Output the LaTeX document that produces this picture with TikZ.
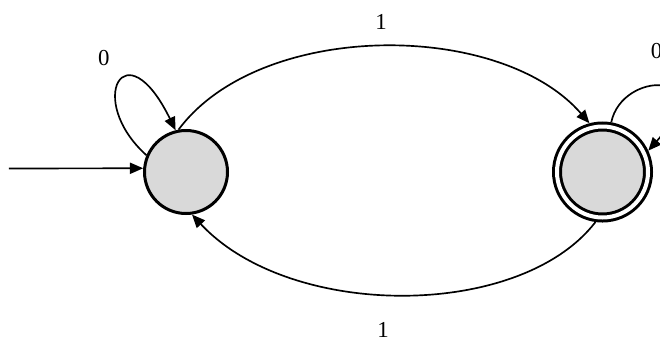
\documentclass[tikz,border=0pt]{standalone}
\usepackage{fontspec}
\setmainfont{Liberation Serif}
\usetikzlibrary{arrows.meta,positioning}
\definecolor{stategray}{RGB}{217,217,217}
\tikzset{
 statecirc/.style={circle,draw=black,line width=0.06cm,fill=stategray,minimum size=1.66cm,inner sep=0pt,outer sep=0.03cm},
 acceptcirc/.style={statecirc,double=white,double distance=0.08cm,minimum size=1.82cm,outer sep=0.1cm},
 arrow/.style={-{Triangle[length=7.5pt,width=6.3pt]},line width=0.95pt,draw=black},
 lbl/.style={font=\fontsize{13}{15}\selectfont,inner sep=2pt}}

\begin{document}
\begin{tikzpicture}
\useasboundingbox (-3.72,-3.42) rectangle (9.48,3.44);
\node[statecirc] (s0) {};
\node[acceptcirc,right=6.46cm of s0] (s1) {};
\coordinate (init) at (-3.54,0.07);
\draw[arrow] (init) -- (s0.175);
\draw[arrow] (s0.157) .. controls (-2.02,1.44) and (-1.22,2.9) .. node[lbl,pos=.6,xshift=-4.4mm,yshift=4.1mm]{0} (s0.104);
\draw[arrow] (s0.100) .. controls (1.48,3.04) and (6.28,3.04) .. node[lbl,pos=.5,yshift=5mm]{1} (s1.105);
\draw[arrow] (s1.262) .. controls (6.68,-2.96) and (2.08,-2.96) .. node[lbl,pos=.5,xshift=-3.8mm,yshift=-7mm]{1} (s0.278);
\draw[arrow] (s1.80) .. controls (8.72,2.04) and (10.68,2.04) .. node[lbl,pos=.5,xshift=-0.8mm,yshift=7.2mm]{0} (s1.25);
\end{tikzpicture}
\end{document}
